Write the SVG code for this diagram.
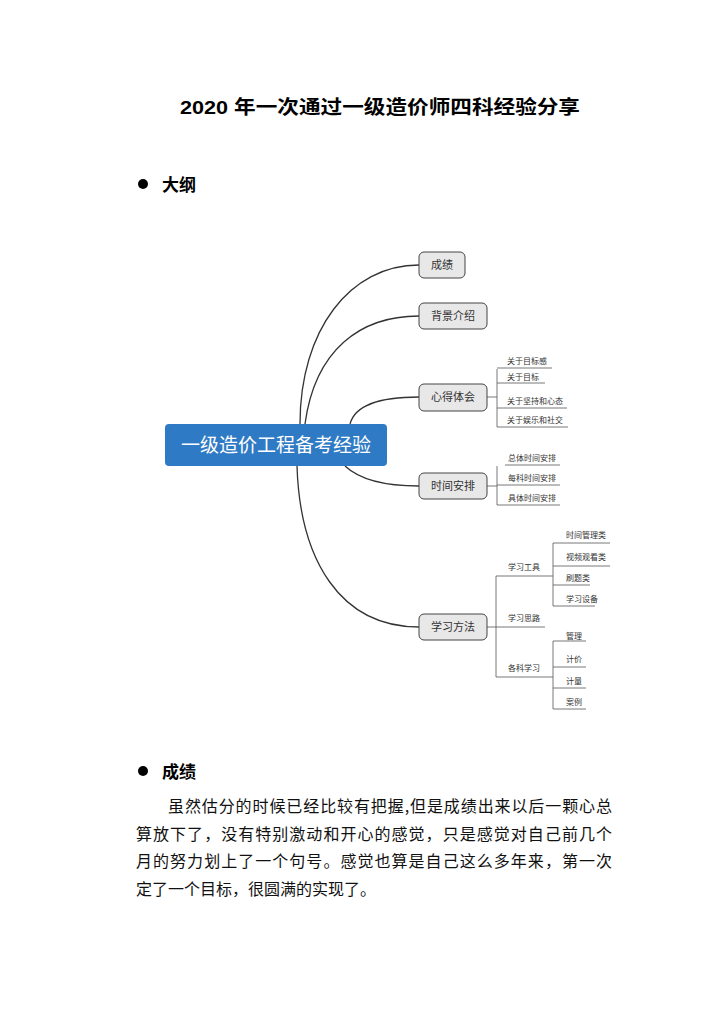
<svg xmlns="http://www.w3.org/2000/svg" width="724" height="1024" viewBox="0 0 724 1024">
<style>
.t{font-family:"Liberation Sans","Noto Sans CJK SC",sans-serif;fill:#000}
.n{fill:#e8e8e8;stroke:#444;stroke-width:1}
.nt{font-family:"Noto Sans CJK SC",sans-serif;font-size:11px;fill:#333;text-anchor:middle}
.lf{font-family:"Noto Sans CJK SC",sans-serif;font-size:8px;fill:#333}
.c{fill:none;stroke:#333;stroke-width:1.3}
.s{fill:none;stroke:#555;stroke-width:0.8}
.p{font-family:"Noto Sans CJK SC",sans-serif;font-size:16px;fill:#111}
</style>
<rect width="724" height="1024" fill="#fff"/>
<text class="t" x="380" y="114" font-size="19" font-weight="bold" text-anchor="middle" textLength="400" lengthAdjust="spacingAndGlyphs">2020 年一次通过一级造价师四科经验分享</text>
<circle cx="143" cy="184" r="5" fill="#000"/>
<text class="t" x="162" y="191" font-size="17" font-weight="bold">大纲</text>
<g id="connectors">
<path class="c" d="M300,424 C300,330 350,265 419,265"/>
<path class="c" d="M305,424 C315,350 360,316 419,316"/>
<path class="c" d="M350,424 C355,405 380,397 419,397"/>
<path class="c" d="M345,466 C360,480 385,486 419,486"/>
<path class="c" d="M297,466 C300,560 340,627 419,627"/>
<path class="s" d="M487,397 H497 M497,369 V427 M497,368 H552 M497,383 H545 M497,408 H567 M497,427 H568"/>
<path class="s" d="M487,486 H497 M497,466 V505 M505,465 H560 M497,485 H560 M497,505 H560"/>
<path class="s" d="M487,627 H545 M496,576 V677 M496,576 H545 M496,677 H545"/>
<path class="s" d="M545,576 H553 M553,543 V606 M553,543 H610 M553,566 H610 M553,585 H590 M553,606 H595"/>
<path class="s" d="M545,677 H553 M553,641 V709 M553,641 H586 M553,667 H586 M553,688 H586 M553,709 H586"/>
</g>
<g id="root"><rect x="165" y="424" width="222" height="42" rx="4" fill="#2f7ac4"/>
<text x="276" y="452" font-family="Noto Sans CJK SC,sans-serif" font-size="19" fill="#fff" text-anchor="middle">一级造价工程备考经验</text></g>
<g id="n1"><rect class="n" x="419" y="252" width="46" height="26" rx="5"/><text class="nt" x="442" y="269">成绩</text></g>
<g id="n2"><rect class="n" x="419" y="303" width="68" height="26" rx="5"/><text class="nt" x="453" y="320">背景介绍</text></g>
<g id="n3"><rect class="n" x="419" y="384" width="68" height="27" rx="5"/><text class="nt" x="453" y="401">心得体会</text></g>
<g id="n4"><rect class="n" x="419" y="473" width="68" height="26" rx="5"/><text class="nt" x="453" y="490">时间安排</text></g>
<g id="n5"><rect class="n" x="419" y="614" width="68" height="26" rx="5"/><text class="nt" x="453" y="631">学习方法</text></g>
<g id="leaves">
<text class="lf" x="507" y="364">关于目标感</text>
<text class="lf" x="507" y="380">关于目标</text>
<text class="lf" x="507" y="404">关于坚持和心态</text>
<text class="lf" x="507" y="423">关于娱乐和社交</text>
<text class="lf" x="508" y="461">总体时间安排</text>
<text class="lf" x="508" y="481">每科时间安排</text>
<text class="lf" x="508" y="501">具体时间安排</text>
<text class="lf" x="508" y="570">学习工具</text>
<text class="lf" x="508" y="621">学习思路</text>
<text class="lf" x="508" y="671">各科学习</text>
<text class="lf" x="566" y="538">时间管理类</text>
<text class="lf" x="566" y="560">视频观看类</text>
<text class="lf" x="566" y="581">刷题类</text>
<text class="lf" x="566" y="602">学习设备</text>
<text class="lf" x="566" y="639">管理</text>
<text class="lf" x="566" y="662">计价</text>
<text class="lf" x="566" y="684">计量</text>
<text class="lf" x="566" y="705">案例</text>
</g>
<circle cx="143" cy="771" r="5" fill="#000"/>
<text class="t" x="162" y="778" font-size="17" font-weight="bold">成绩</text>
<text class="p" x="168" y="812" textLength="444" lengthAdjust="spacing">虽然估分的时候已经比较有把握,但是成绩出来以后一颗心总</text>
<text class="p" x="136" y="840" textLength="476" lengthAdjust="spacing">算放下了，没有特别激动和开心的感觉，只是感觉对自己前几个</text>
<text class="p" x="136" y="867" textLength="476" lengthAdjust="spacing">月的努力划上了一个句号。感觉也算是自己这么多年来，第一次</text>
<text class="p" x="136" y="895">定了一个目标，很圆满的实现了。</text>
</svg>
